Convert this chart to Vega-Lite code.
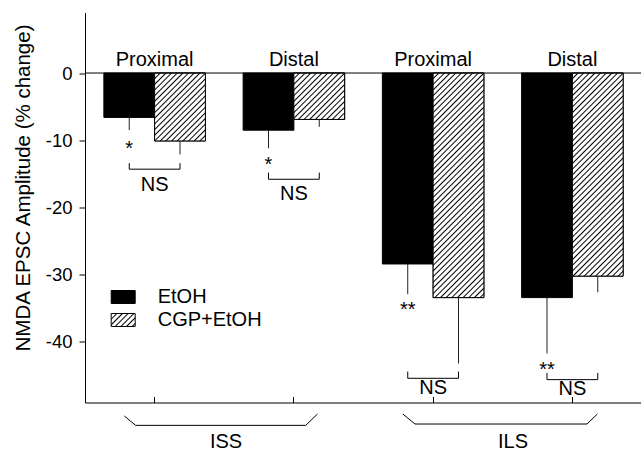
{
 "$schema": "https://vega.github.io/schema/vega-lite/v6.json",
 "width": 557,
 "height": 390,
 "autosize": {"type": "none"},
 "padding": {"left": 85, "top": 12.5, "right": 0, "bottom": 48.5},
 "config": {"view": {"stroke": null}, "font": "Liberation Sans", "text": {"font": "Liberation Sans", "fontSize": 20, "color": "black"}},
 "params": [{"name": "hatchStops", "value": [
  {"offset":0,"color":"#000"},{"offset":0.005,"color":"#fff"},{"offset":0.015,"color":"#fff"},
  {"offset":0.02,"color":"#000"},{"offset":0.025,"color":"#fff"},{"offset":0.035,"color":"#fff"},
  {"offset":0.04,"color":"#000"},{"offset":0.045,"color":"#fff"},{"offset":0.055,"color":"#fff"},
  {"offset":0.06,"color":"#000"},{"offset":0.065,"color":"#fff"},{"offset":0.075,"color":"#fff"},
  {"offset":0.08,"color":"#000"},{"offset":0.085,"color":"#fff"},{"offset":0.095,"color":"#fff"},
  {"offset":0.1,"color":"#000"},{"offset":0.105,"color":"#fff"},{"offset":0.115,"color":"#fff"},
  {"offset":0.12,"color":"#000"},{"offset":0.125,"color":"#fff"},{"offset":0.135,"color":"#fff"},
  {"offset":0.14,"color":"#000"},{"offset":0.145,"color":"#fff"},{"offset":0.155,"color":"#fff"},
  {"offset":0.16,"color":"#000"},{"offset":0.165,"color":"#fff"},{"offset":0.175,"color":"#fff"},
  {"offset":0.18,"color":"#000"},{"offset":0.185,"color":"#fff"},{"offset":0.195,"color":"#fff"},
  {"offset":0.2,"color":"#000"},{"offset":0.205,"color":"#fff"},{"offset":0.215,"color":"#fff"},
  {"offset":0.22,"color":"#000"},{"offset":0.225,"color":"#fff"},{"offset":0.235,"color":"#fff"},
  {"offset":0.24,"color":"#000"},{"offset":0.245,"color":"#fff"},{"offset":0.255,"color":"#fff"},
  {"offset":0.26,"color":"#000"},{"offset":0.265,"color":"#fff"},{"offset":0.275,"color":"#fff"},
  {"offset":0.28,"color":"#000"},{"offset":0.285,"color":"#fff"},{"offset":0.295,"color":"#fff"},
  {"offset":0.3,"color":"#000"},{"offset":0.305,"color":"#fff"},{"offset":0.315,"color":"#fff"},
  {"offset":0.32,"color":"#000"},{"offset":0.325,"color":"#fff"},{"offset":0.335,"color":"#fff"},
  {"offset":0.34,"color":"#000"},{"offset":0.345,"color":"#fff"},{"offset":0.355,"color":"#fff"},
  {"offset":0.36,"color":"#000"},{"offset":0.365,"color":"#fff"},{"offset":0.375,"color":"#fff"},
  {"offset":0.38,"color":"#000"},{"offset":0.385,"color":"#fff"},{"offset":0.395,"color":"#fff"},
  {"offset":0.4,"color":"#000"},{"offset":0.405,"color":"#fff"},{"offset":0.415,"color":"#fff"},
  {"offset":0.42,"color":"#000"},{"offset":0.425,"color":"#fff"},{"offset":0.435,"color":"#fff"},
  {"offset":0.44,"color":"#000"},{"offset":0.445,"color":"#fff"},{"offset":0.455,"color":"#fff"},
  {"offset":0.46,"color":"#000"},{"offset":0.465,"color":"#fff"},{"offset":0.475,"color":"#fff"},
  {"offset":0.48,"color":"#000"},{"offset":0.485,"color":"#fff"},{"offset":0.495,"color":"#fff"},
  {"offset":0.5,"color":"#000"},{"offset":0.505,"color":"#fff"},{"offset":0.515,"color":"#fff"},
  {"offset":0.52,"color":"#000"},{"offset":0.525,"color":"#fff"},{"offset":0.535,"color":"#fff"},
  {"offset":0.54,"color":"#000"},{"offset":0.545,"color":"#fff"},{"offset":0.555,"color":"#fff"},
  {"offset":0.56,"color":"#000"},{"offset":0.565,"color":"#fff"},{"offset":0.575,"color":"#fff"},
  {"offset":0.58,"color":"#000"},{"offset":0.585,"color":"#fff"},{"offset":0.595,"color":"#fff"},
  {"offset":0.6,"color":"#000"},{"offset":0.605,"color":"#fff"},{"offset":0.615,"color":"#fff"},
  {"offset":0.62,"color":"#000"},{"offset":0.625,"color":"#fff"},{"offset":0.635,"color":"#fff"},
  {"offset":0.64,"color":"#000"},{"offset":0.645,"color":"#fff"},{"offset":0.655,"color":"#fff"},
  {"offset":0.66,"color":"#000"},{"offset":0.665,"color":"#fff"},{"offset":0.675,"color":"#fff"},
  {"offset":0.68,"color":"#000"},{"offset":0.685,"color":"#fff"},{"offset":0.695,"color":"#fff"},
  {"offset":0.7,"color":"#000"},{"offset":0.705,"color":"#fff"},{"offset":0.715,"color":"#fff"},
  {"offset":0.72,"color":"#000"},{"offset":0.725,"color":"#fff"},{"offset":0.735,"color":"#fff"},
  {"offset":0.74,"color":"#000"},{"offset":0.745,"color":"#fff"},{"offset":0.755,"color":"#fff"},
  {"offset":0.76,"color":"#000"},{"offset":0.765,"color":"#fff"},{"offset":0.775,"color":"#fff"},
  {"offset":0.78,"color":"#000"},{"offset":0.785,"color":"#fff"},{"offset":0.795,"color":"#fff"},
  {"offset":0.8,"color":"#000"},{"offset":0.805,"color":"#fff"},{"offset":0.815,"color":"#fff"},
  {"offset":0.82,"color":"#000"},{"offset":0.825,"color":"#fff"},{"offset":0.835,"color":"#fff"},
  {"offset":0.84,"color":"#000"},{"offset":0.845,"color":"#fff"},{"offset":0.855,"color":"#fff"},
  {"offset":0.86,"color":"#000"},{"offset":0.865,"color":"#fff"},{"offset":0.875,"color":"#fff"},
  {"offset":0.88,"color":"#000"},{"offset":0.885,"color":"#fff"},{"offset":0.895,"color":"#fff"},
  {"offset":0.9,"color":"#000"},{"offset":0.905,"color":"#fff"},{"offset":0.915,"color":"#fff"},
  {"offset":0.92,"color":"#000"},{"offset":0.925,"color":"#fff"},{"offset":0.935,"color":"#fff"},
  {"offset":0.94,"color":"#000"},{"offset":0.945,"color":"#fff"},{"offset":0.955,"color":"#fff"},
  {"offset":0.96,"color":"#000"},{"offset":0.965,"color":"#fff"},{"offset":0.975,"color":"#fff"},
  {"offset":0.98,"color":"#000"},{"offset":0.985,"color":"#fff"},{"offset":0.995,"color":"#fff"},
  {"offset":1,"color":"#000"}
 ]}],
 "datasets": {
  "bars": [
   {"group": "ISS Proximal", "treatment": "EtOH", "value": -6.6, "err": -8.5},
   {"group": "ISS Proximal", "treatment": "CGP+EtOH", "value": -10.1, "err": -12.1},
   {"group": "ISS Distal", "treatment": "EtOH", "value": -8.5, "err": -11.2},
   {"group": "ISS Distal", "treatment": "CGP+EtOH", "value": -6.9, "err": -8.0},
   {"group": "ILS Proximal", "treatment": "EtOH", "value": -28.4, "err": -32.9},
   {"group": "ILS Proximal", "treatment": "CGP+EtOH", "value": -33.4, "err": -43.2},
   {"group": "ILS Distal", "treatment": "EtOH", "value": -33.4, "err": -41.7},
   {"group": "ILS Distal", "treatment": "CGP+EtOH", "value": -30.2, "err": -32.6}
  ],
  "zero": [{"v": 0}],
  "stars": [
   {"group": "ISS Proximal", "treatment": "EtOH", "y": -12.2, "label": "*"},
   {"group": "ISS Distal", "treatment": "EtOH", "y": -14.5, "label": "*"},
   {"group": "ILS Proximal", "treatment": "EtOH", "y": -36.2, "label": "**"},
   {"group": "ILS Distal", "treatment": "EtOH", "y": -45.0, "label": "**"}
  ],
  "nsBrackets": [
   {"group": "ISS Proximal", "treatment": "EtOH", "y": -13.4, "ord": 1},
   {"group": "ISS Proximal", "treatment": "EtOH", "y": -14.3, "ord": 2},
   {"group": "ISS Proximal", "treatment": "CGP+EtOH", "y": -14.3, "ord": 3},
   {"group": "ISS Proximal", "treatment": "CGP+EtOH", "y": -13.4, "ord": 4},
   {"group": "ISS Distal", "treatment": "EtOH", "y": -14.8, "ord": 1},
   {"group": "ISS Distal", "treatment": "EtOH", "y": -15.8, "ord": 2},
   {"group": "ISS Distal", "treatment": "CGP+EtOH", "y": -15.8, "ord": 3},
   {"group": "ISS Distal", "treatment": "CGP+EtOH", "y": -14.8, "ord": 4},
   {"group": "ILS Proximal", "treatment": "EtOH", "y": -44.4, "ord": 1},
   {"group": "ILS Proximal", "treatment": "EtOH", "y": -45.4, "ord": 2},
   {"group": "ILS Proximal", "treatment": "CGP+EtOH", "y": -45.4, "ord": 3},
   {"group": "ILS Proximal", "treatment": "CGP+EtOH", "y": -44.4, "ord": 4},
   {"group": "ILS Distal", "treatment": "EtOH", "y": -44.6, "ord": 1},
   {"group": "ILS Distal", "treatment": "EtOH", "y": -45.6, "ord": 2},
   {"group": "ILS Distal", "treatment": "CGP+EtOH", "y": -45.6, "ord": 3},
   {"group": "ILS Distal", "treatment": "CGP+EtOH", "y": -44.6, "ord": 4}
  ],
  "nsText": [
   {"group": "ISS Proximal", "y": -17.5, "label": "NS"},
   {"group": "ISS Distal", "y": -18.9, "label": "NS"},
   {"group": "ILS Proximal", "y": -47.7, "label": "NS"},
   {"group": "ILS Distal", "y": -47.9, "label": "NS"}
  ],
  "subLabels": [
   {"group": "ISS Proximal", "y": 1.0, "label": "Proximal"},
   {"group": "ISS Distal", "y": 1.0, "label": "Distal"},
   {"group": "ILS Proximal", "y": 1.0, "label": "Proximal"},
   {"group": "ILS Distal", "y": 1.0, "label": "Distal"}
  ],
  "groupBrackets": [
   {"name": "ISS", "pos": 0.282, "y": -51.0, "ord": 1},
   {"name": "ISS", "pos": 0.364, "y": -52.4, "ord": 2},
   {"name": "ISS", "pos": 1.585, "y": -52.4, "ord": 3},
   {"name": "ISS", "pos": 1.670, "y": -50.7, "ord": 4},
   {"name": "ILS", "pos": 2.282, "y": -50.7, "ord": 1},
   {"name": "ILS", "pos": 2.370, "y": -52.2, "ord": 2},
   {"name": "ILS", "pos": 3.605, "y": -52.2, "ord": 3},
   {"name": "ILS", "pos": 3.680, "y": -50.7, "ord": 4}
  ],
  "groupLabels": [
   {"name": "ISS", "pos": 1.013, "y": -55.7},
   {"name": "ILS", "pos": 3.074, "y": -55.7}
  ]
 },
 "resolve": {"scale": {"x": "independent"}, "axis": {"x": "independent", "y": "independent"}},
 "layer": [
  {
   "data": {"name": "bars"},
   "mark": {"type": "bar", "stroke": "black", "strokeWidth": 1},
   "encoding": {
    "x": {"field": "group", "type": "nominal", "scale": {"domain": ["ISS Proximal", "ISS Distal", "ILS Proximal", "ILS Distal"], "paddingInner": 0.271, "paddingOuter": 0.1355},
     "axis": {"orient": "bottom", "labels": false, "title": null, "tickSize": -6, "domainColor": "black", "tickColor": "black", "domainWidth": 1, "tickWidth": 1, "grid": false}},
    "xOffset": {"field": "treatment", "type": "nominal", "scale": {"domain": ["EtOH", "CGP+EtOH"], "paddingInner": 0, "paddingOuter": 0}},
    "y": {"field": "value", "type": "quantitative", "scale": {"domain": [-49, 9], "nice": false},
     "axis": {"orient": "left", "values": [0, -10, -20, -30, -40], "title": "NMDA EPSC Amplitude (% change)", "labelExpr": "toString(datum.value)", "labelFontSize": 18.5, "labelColor": "black", "labelFont": "Liberation Sans", "labelPadding": 7, "tickSize": 6, "tickColor": "black", "domainColor": "black", "grid": false, "titleFontSize": 20.5, "titleFontWeight": "normal", "titleColor": "black", "titleFont": "Liberation Sans", "titleX": -56, "titleY": 175, "titleAngle": 270, "titleBaseline": "alphabetic", "titleAlign": "center"}},
    "fill": {"field": "treatment", "type": "nominal",
     "scale": {"domain": ["EtOH", "CGP+EtOH"], "range": ["black", {"expr": "{gradient: 'linear', x1: 0, y1: 0, x2: 9.112, y2: 4.935, stops: hatchStops}"}]},
     "legend": {"orient": "none", "legendX": 25.7, "legendY": 272, "title": null, "labelFontSize": 20, "labelFont": "Liberation Sans", "labelColor": "black", "symbolType": "M-1,-0.54H1V0.54H-1Z", "symbolSize": 576, "symbolStrokeColor": "black", "symbolStrokeWidth": 1, "labelOffset": 22, "rowPadding": -4, "padding": 0}}
   }
  },
  {
   "data": {"name": "bars"},
   "transform": [{"filter": "datum.group == 'ISS Proximal' && datum.treatment == 'CGP+EtOH'"}],
   "mark": {"type": "bar", "stroke": "black", "strokeWidth": 1, "fill": {"expr": "{gradient: 'linear', x1: 0, y1: 0, x2: 1.9975, y2: 2.6726, stops: hatchStops}"}},
   "encoding": {
    "x": {"field": "group", "type": "nominal", "scale": {"domain": ["ISS Proximal", "ISS Distal", "ILS Proximal", "ILS Distal"], "paddingInner": 0.271, "paddingOuter": 0.1355}, "axis": null},
    "xOffset": {"field": "treatment", "type": "nominal", "scale": {"domain": ["EtOH", "CGP+EtOH"], "paddingInner": 0, "paddingOuter": 0}},
    "y": {"field": "value", "type": "quantitative", "scale": {"domain": [-49, 9], "nice": false}, "axis": null}
   }
  },
  {
   "data": {"name": "bars"},
   "transform": [{"filter": "datum.group == 'ISS Distal' && datum.treatment == 'CGP+EtOH'"}],
   "mark": {"type": "bar", "stroke": "black", "strokeWidth": 1, "fill": {"expr": "{gradient: 'linear', x1: 0, y1: 0, x2: 3.0356, y2: 2.7754, stops: hatchStops}"}},
   "encoding": {
    "x": {"field": "group", "type": "nominal", "scale": {"domain": ["ISS Proximal", "ISS Distal", "ILS Proximal", "ILS Distal"], "paddingInner": 0.271, "paddingOuter": 0.1355}, "axis": null},
    "xOffset": {"field": "treatment", "type": "nominal", "scale": {"domain": ["EtOH", "CGP+EtOH"], "paddingInner": 0, "paddingOuter": 0}},
    "y": {"field": "value", "type": "quantitative", "scale": {"domain": [-49, 9], "nice": false}, "axis": null}
   }
  },
  {
   "data": {"name": "bars"},
   "transform": [{"filter": "datum.group == 'ILS Proximal' && datum.treatment == 'CGP+EtOH'"}],
   "mark": {"type": "bar", "stroke": "black", "strokeWidth": 1, "fill": {"expr": "{gradient: 'linear', x1: 0, y1: 0, x2: 0.2707, y2: 1.1981, stops: hatchStops}"}},
   "encoding": {
    "x": {"field": "group", "type": "nominal", "scale": {"domain": ["ISS Proximal", "ISS Distal", "ILS Proximal", "ILS Distal"], "paddingInner": 0.271, "paddingOuter": 0.1355}, "axis": null},
    "xOffset": {"field": "treatment", "type": "nominal", "scale": {"domain": ["EtOH", "CGP+EtOH"], "paddingInner": 0, "paddingOuter": 0}},
    "y": {"field": "value", "type": "quantitative", "scale": {"domain": [-49, 9], "nice": false}, "axis": null}
   }
  },
  {
   "data": {"name": "bars"},
   "transform": [{"filter": "datum.group == 'ILS Distal' && datum.treatment == 'CGP+EtOH'"}],
   "mark": {"type": "bar", "stroke": "black", "strokeWidth": 1, "fill": {"expr": "{gradient: 'linear', x1: 0, y1: 0, x2: 0.3275, y2: 1.3108, stops: hatchStops}"}},
   "encoding": {
    "x": {"field": "group", "type": "nominal", "scale": {"domain": ["ISS Proximal", "ISS Distal", "ILS Proximal", "ILS Distal"], "paddingInner": 0.271, "paddingOuter": 0.1355}, "axis": null},
    "xOffset": {"field": "treatment", "type": "nominal", "scale": {"domain": ["EtOH", "CGP+EtOH"], "paddingInner": 0, "paddingOuter": 0}},
    "y": {"field": "value", "type": "quantitative", "scale": {"domain": [-49, 9], "nice": false}, "axis": null}
   }
  },
  {
   "data": {"name": "zero"},
   "mark": {"type": "rule", "color": "black", "strokeWidth": 1},
   "encoding": {"y": {"field": "v", "type": "quantitative", "scale": {"domain": [-49, 9], "nice": false}, "axis": null}}
  },
  {
   "data": {"name": "bars"},
   "mark": {"type": "rule", "color": "#222", "strokeWidth": 1},
   "encoding": {
    "x": {"field": "group", "type": "nominal", "scale": {"domain": ["ISS Proximal", "ISS Distal", "ILS Proximal", "ILS Distal"], "paddingInner": 0.271, "paddingOuter": 0.1355}, "axis": null},
    "xOffset": {"field": "treatment", "type": "nominal", "scale": {"domain": ["EtOH", "CGP+EtOH"], "paddingInner": 0, "paddingOuter": 0}},
    "y": {"field": "value", "type": "quantitative", "scale": {"domain": [-49, 9], "nice": false}, "axis": null},
    "y2": {"field": "err"}
   }
  },
  {
   "data": {"name": "stars"},
   "mark": {"type": "text", "align": "center", "baseline": "alphabetic", "fontSize": 20, "font": "Liberation Sans", "color": "black"},
   "encoding": {
    "x": {"field": "group", "type": "nominal", "scale": {"domain": ["ISS Proximal", "ISS Distal", "ILS Proximal", "ILS Distal"], "paddingInner": 0.271, "paddingOuter": 0.1355}, "axis": null},
    "xOffset": {"field": "treatment", "type": "nominal", "scale": {"domain": ["EtOH", "CGP+EtOH"], "paddingInner": 0, "paddingOuter": 0}},
    "y": {"field": "y", "type": "quantitative", "scale": {"domain": [-49, 9], "nice": false}, "axis": null},
    "text": {"field": "label"}
   }
  },
  {
   "data": {"name": "nsBrackets"},
   "mark": {"type": "line", "color": "black", "strokeWidth": 1},
   "encoding": {
    "x": {"field": "group", "type": "nominal", "scale": {"domain": ["ISS Proximal", "ISS Distal", "ILS Proximal", "ILS Distal"], "paddingInner": 0.271, "paddingOuter": 0.1355}, "axis": null},
    "xOffset": {"field": "treatment", "type": "nominal", "scale": {"domain": ["EtOH", "CGP+EtOH"], "paddingInner": 0, "paddingOuter": 0}},
    "y": {"field": "y", "type": "quantitative", "scale": {"domain": [-49, 9], "nice": false}, "axis": null},
    "detail": {"field": "group"},
    "order": {"field": "ord", "type": "quantitative"}
   }
  },
  {
   "data": {"name": "nsText"},
   "mark": {"type": "text", "align": "center", "baseline": "alphabetic", "fontSize": 20, "font": "Liberation Sans", "color": "black"},
   "encoding": {
    "x": {"field": "group", "type": "nominal", "scale": {"domain": ["ISS Proximal", "ISS Distal", "ILS Proximal", "ILS Distal"], "paddingInner": 0.271, "paddingOuter": 0.1355}, "axis": null},
    "y": {"field": "y", "type": "quantitative", "scale": {"domain": [-49, 9], "nice": false}, "axis": null},
    "text": {"field": "label"}
   }
  },
  {
   "data": {"name": "subLabels"},
   "mark": {"type": "text", "align": "center", "baseline": "alphabetic", "fontSize": 20, "font": "Liberation Sans", "color": "black"},
   "encoding": {
    "x": {"field": "group", "type": "nominal", "scale": {"domain": ["ISS Proximal", "ISS Distal", "ILS Proximal", "ILS Distal"], "paddingInner": 0.271, "paddingOuter": 0.1355}, "axis": null},
    "y": {"field": "y", "type": "quantitative", "scale": {"domain": [-49, 9], "nice": false}, "axis": null},
    "text": {"field": "label"}
   }
  },
  {
   "data": {"name": "groupBrackets"},
   "mark": {"type": "line", "color": "black", "strokeWidth": 1},
   "encoding": {
    "x": {"field": "pos", "type": "quantitative", "scale": {"domain": [0, 4], "nice": false, "zero": false}, "axis": null},
    "y": {"field": "y", "type": "quantitative", "scale": {"domain": [-49, 9], "nice": false}, "axis": null},
    "detail": {"field": "name"},
    "order": {"field": "ord", "type": "quantitative"}
   }
  },
  {
   "data": {"name": "groupLabels"},
   "mark": {"type": "text", "align": "center", "baseline": "alphabetic", "fontSize": 20, "font": "Liberation Sans", "color": "black"},
   "encoding": {
    "x": {"field": "pos", "type": "quantitative", "scale": {"domain": [0, 4], "nice": false, "zero": false}, "axis": null},
    "y": {"field": "y", "type": "quantitative", "scale": {"domain": [-49, 9], "nice": false}, "axis": null},
    "text": {"field": "name"}
   }
  }
 ]
}
